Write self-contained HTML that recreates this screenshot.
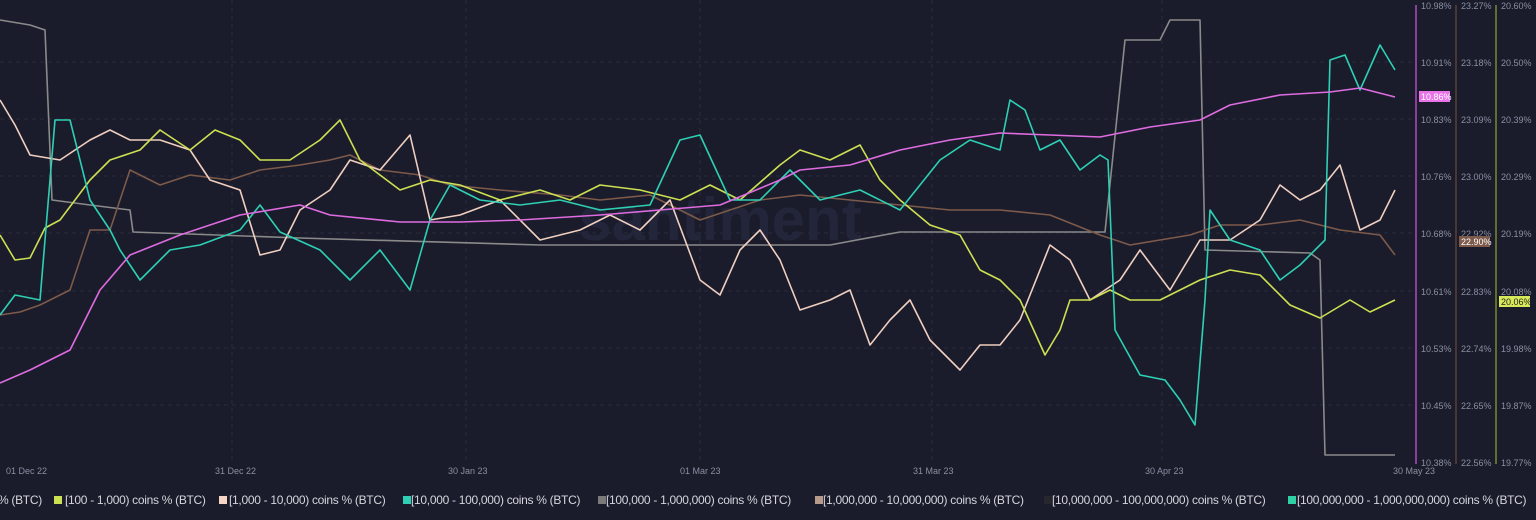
<!DOCTYPE html>
<html><head><meta charset="utf-8"><style>
html,body{margin:0;padding:0;background:#1a1c2b;width:1536px;height:520px;overflow:hidden;font-family:"Liberation Sans",sans-serif}
.lg{position:absolute;top:493px;font-size:12px;color:#d4d6dc;white-space:nowrap;letter-spacing:-0.3px}
.sq{position:absolute;top:496px;width:8px;height:8px}
</style></head><body>
<svg width="1536" height="520" style="position:absolute;left:0;top:0" font-family="Liberation Sans, sans-serif">
<g stroke="#2a2d3e" stroke-dasharray="4,4" stroke-width="1">
<line x1="0" y1="62" x2="1412" y2="62"/><line x1="0" y1="119" x2="1412" y2="119"/><line x1="0" y1="176" x2="1412" y2="176"/><line x1="0" y1="233" x2="1412" y2="233"/><line x1="0" y1="291" x2="1412" y2="291"/><line x1="0" y1="348" x2="1412" y2="348"/><line x1="0" y1="405" x2="1412" y2="405"/>
<line x1="232" y1="0" x2="232" y2="462"/><line x1="466" y1="0" x2="466" y2="462"/><line x1="700" y1="0" x2="700" y2="462"/><line x1="932" y1="0" x2="932" y2="462"/><line x1="1162" y1="0" x2="1162" y2="462"/>
</g>
<text x="720" y="240" font-size="60" fill="#23263a" text-anchor="middle" font-weight="bold">santiment</text>
<g fill="none" stroke-width="1.6" stroke-linejoin="round">
<polyline stroke="#8a8a8a" points="0,20 30,25 45,30 52,200 90,205 130,210 133,232 300,238 540,245 830,245 900,232 1050,232 1105,232 1125,40 1160,40 1170,20 1200,20 1205,250 1310,253 1320,260 1325,455 1395,455"/>
<polyline stroke="#7d5a4a" points="0,315 20,312 40,305 70,290 90,230 110,230 130,170 160,185 190,175 230,180 260,170 300,165 330,160 350,155 380,170 420,175 450,185 500,190 560,195 600,200 650,195 700,220 760,200 800,195 850,200 900,205 950,210 1000,210 1050,215 1100,235 1130,245 1160,240 1190,235 1220,225 1260,225 1300,220 1340,230 1380,235 1395,255"/>
<polyline stroke="#f0cfc0" points="0,100 15,125 30,155 60,160 90,140 110,130 130,140 160,140 190,150 210,180 240,190 260,255 280,250 300,210 330,190 350,160 380,170 410,135 430,220 460,215 500,200 540,240 580,230 610,215 640,230 670,200 700,280 720,295 740,250 760,230 780,260 800,310 830,300 850,290 870,345 890,320 910,300 930,340 960,370 980,345 1000,345 1020,320 1050,245 1070,260 1090,300 1120,280 1140,250 1170,290 1200,240 1230,240 1260,220 1280,185 1300,200 1320,190 1340,165 1360,230 1380,220 1395,190"/>
<polyline stroke="#cde052" points="0,235 15,260 30,258 45,228 60,220 90,180 110,160 140,150 160,130 190,150 215,130 240,140 260,160 290,160 320,140 340,120 360,160 400,190 430,180 460,185 500,200 540,190 570,200 600,185 640,190 680,200 710,185 740,200 780,165 800,150 830,160 860,145 880,180 900,200 930,225 960,235 980,270 1000,280 1020,300 1045,355 1060,330 1070,300 1090,300 1110,290 1130,300 1160,300 1180,290 1200,280 1230,270 1260,275 1290,305 1320,318 1350,300 1370,312 1395,300"/>
<polyline stroke="#2ed0b4" points="0,315 15,295 40,300 55,120 70,120 90,200 110,230 120,250 140,280 170,250 200,245 240,230 260,205 280,232 320,250 350,280 380,250 410,290 430,220 450,185 480,200 520,205 560,200 600,210 650,205 680,140 700,135 730,200 760,200 790,170 820,200 860,190 900,210 940,160 970,140 1000,150 1010,100 1025,110 1040,150 1060,140 1080,170 1100,155 1108,160 1115,330 1140,375 1165,380 1180,400 1195,425 1205,300 1210,210 1230,240 1260,250 1280,280 1300,265 1325,240 1330,60 1345,55 1360,90 1380,45 1395,70"/>
<polyline stroke="#de6ce0" points="0,383 30,370 70,350 100,290 130,255 180,235 240,215 300,205 330,215 400,222 460,222 520,220 600,215 660,210 720,205 780,180 800,170 850,165 900,150 950,140 1000,133 1050,135 1100,137 1150,127 1200,120 1230,105 1280,95 1330,92 1360,88 1395,97"/>
</g>
<line x1="1416" y1="5" x2="1416" y2="464" stroke="#b04cc0" stroke-width="1.5"/>
<line x1="1456" y1="5" x2="1456" y2="464" stroke="#5a4038" stroke-width="1.5"/>
<line x1="1496" y1="5" x2="1496" y2="464" stroke="#7a8a30" stroke-width="1.5"/>
<g font-size="9" fill="#8a8fa3">
<text x="1421" y="9">10.98%</text><text x="1421" y="66">10.91%</text><text x="1421" y="123">10.83%</text><text x="1421" y="180">10.76%</text><text x="1421" y="237">10.68%</text><text x="1421" y="295">10.61%</text><text x="1421" y="352">10.53%</text><text x="1421" y="409">10.45%</text><text x="1421" y="466">10.38%</text>
<text x="1461" y="9">23.27%</text><text x="1461" y="66">23.18%</text><text x="1461" y="123">23.09%</text><text x="1461" y="180">23.00%</text><text x="1461" y="237">22.92%</text><text x="1461" y="295">22.83%</text><text x="1461" y="352">22.74%</text><text x="1461" y="409">22.65%</text><text x="1461" y="466">22.56%</text>
<text x="1501" y="9">20.60%</text><text x="1501" y="66">20.50%</text><text x="1501" y="123">20.39%</text><text x="1501" y="180">20.29%</text><text x="1501" y="237">20.19%</text><text x="1501" y="295">20.08%</text><text x="1501" y="352">19.98%</text><text x="1501" y="409">19.87%</text><text x="1501" y="466">19.77%</text>
<text x="6" y="474">01 Dec 22</text><text x="215" y="474">31 Dec 22</text><text x="448" y="474">30 Jan 23</text><text x="680" y="474">01 Mar 23</text><text x="913" y="474">31 Mar 23</text><text x="1145" y="474">30 Apr 23</text><text x="1393" y="474">30 May 23</text>
</g>
<rect x="1419" y="91" width="31" height="11" fill="#e874e8"/><text x="1421" y="100" font-size="9" fill="#fff">10.86%</text>
<rect x="1459" y="236" width="31" height="11" fill="#7d5a4a"/><text x="1461" y="245" font-size="9" fill="#fff">22.90%</text>
<rect x="1499" y="296" width="31" height="11" fill="#d8ea5a"/><text x="1501" y="305" font-size="9" fill="#222">20.06%</text>
</svg>
<div class="lg" style="left:-2px">% (BTC)</div>
<div class="sq" style="left:54px;background:#cde052"></div><div class="lg" style="left:65px">[100 - 1,000) coins % (BTC)</div>
<div class="sq" style="left:219px;background:#f7d4c4"></div><div class="lg" style="left:229px">[1,000 - 10,000) coins % (BTC)</div>
<div class="sq" style="left:403px;background:#2ed0b4"></div><div class="lg" style="left:411px">[10,000 - 100,000) coins % (BTC)</div>
<div class="sq" style="left:598px;background:#7a7a7a"></div><div class="lg" style="left:606px">[100,000  - 1,000,000) coins % (BTC)</div>
<div class="sq" style="left:815px;background:#b89a8a"></div><div class="lg" style="left:823px">[1,000,000 - 10,000,000) coins % (BTC)</div>
<div class="sq" style="left:1044px;background:#25262e"></div><div class="lg" style="left:1052px">[10,000,000 - 100,000,000) coins % (BTC)</div>
<div class="sq" style="left:1288px;background:#2ed0a4"></div><div class="lg" style="left:1297px">[100,000,000 - 1,000,000,000) coins % (BTC)</div>
</body></html>
